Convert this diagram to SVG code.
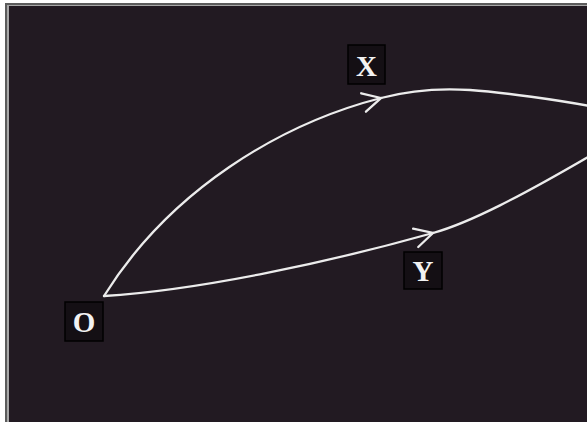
<svg xmlns="http://www.w3.org/2000/svg" width="587" height="422" viewBox="0 0 587 422">
<defs>
<style>
.edge{fill:none;stroke:#ececec;stroke-width:2.3;stroke-linecap:round}
.box{fill:#140f14;stroke:#000;stroke-width:1.5}
.lbl{font-family:"Liberation Serif","DejaVu Serif",serif;font-size:29px;font-weight:bold;fill:#f2f2f2;text-anchor:middle}
</style>
<marker id="chev" markerUnits="userSpaceOnUse" markerWidth="30" markerHeight="30" refX="0" refY="0" viewBox="-20 -15 30 30" orient="auto" overflow="visible">
<path d="M-18,-9.5 L0,0 L-18,9.5" fill="none" stroke="#ececec" stroke-width="2.3" stroke-linecap="round" stroke-linejoin="miter"/>
</marker>
</defs>
<rect x="0" y="0" width="587" height="422" fill="#ffffff"/>
<rect x="5" y="3" width="582" height="419" fill="#5c5c5c"/>
<rect x="7" y="5" width="580" height="417" fill="#a8a8a8"/>
<rect x="9" y="6" width="578" height="416" fill="#221a22"/>
<g id="connectors">
<path class="edge" d="M104,296 C170,190 280,124 381,98" marker-end="url(#chev)"/>
<path class="edge" d="M381,98 C411,90 440,88 470,90 S560,100 600,108"/>
<path class="edge" d="M104,296 C200,290 330,262 433,233" marker-end="url(#chev)"/>
<path class="edge" d="M433,233 C469,223 520,197 600,150"/>
</g>
<g id="node-X">
<rect class="box" x="348" y="45" width="37" height="39"/>
<text class="lbl" x="366.5" y="75.5">X</text>
</g>
<g id="node-Y">
<rect class="box" x="404" y="252" width="38" height="37"/>
<text class="lbl" x="423" y="281">Y</text>
</g>
<g id="node-O">
<rect class="box" x="65" y="302" width="38" height="39"/>
<text class="lbl" x="84" y="332">O</text>
</g>
</svg>
